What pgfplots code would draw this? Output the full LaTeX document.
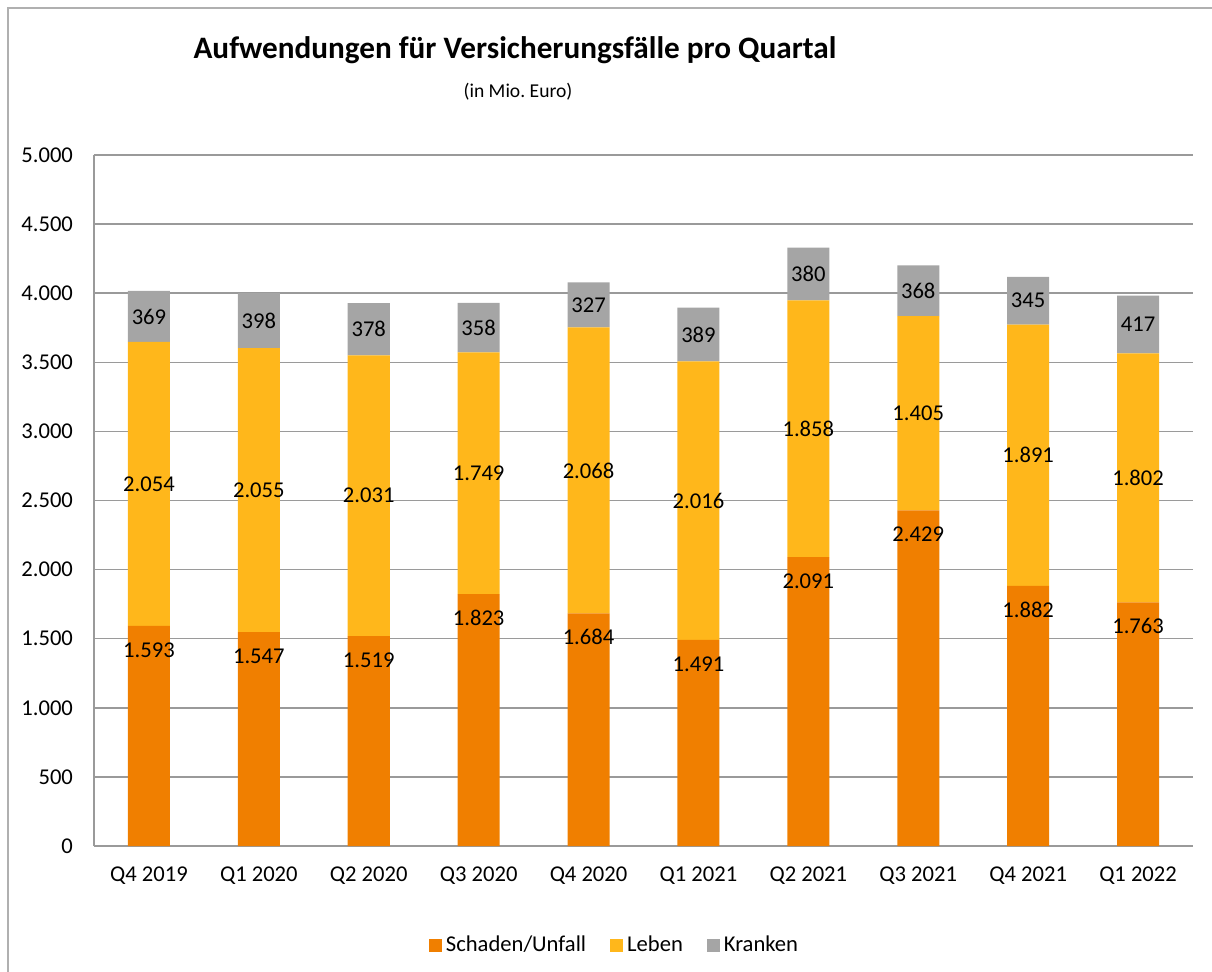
\documentclass[border=0pt]{standalone}
\usepackage{pgfplots}
\pgfplotsset{compat=1.18}
\usepackage{fontspec}
\setmainfont{Carlito}
\definecolor{cOrange}{HTML}{F07F00}
\definecolor{cYellow}{HTML}{FFB71B}
\definecolor{cGray}{HTML}{A5A5A5}
\definecolor{cGrid}{HTML}{9A9A9A}
\definecolor{cBorder}{HTML}{B0B0B0}
\pgfplotsset{
  common/.style={
    anchor=south west, at={(0pt,0pt)},
    scale only axis, width=549.5pt, height=345.5pt,
    bar width=21pt,
    xmin=-0.5, xmax=9.5, ymin=0, ymax=5000,
  },
}
\begin{document}
\frenchspacing
\begin{tikzpicture}
\useasboundingbox (-47pt,-62.5pt) rectangle (559pt,423pt);
\draw[cBorder, line width=0.9pt] (-43pt,-70pt) -- (-43pt,419pt) -- (570pt,419pt);
\begin{axis}[
  common,
  ybar stacked,
  xtick={0,...,9},
  xticklabels={Q4 2019,Q1 2020,Q2 2020,Q3 2020,Q4 2020,Q1 2021,Q2 2021,Q3 2021,Q4 2021,Q1 2022},
  ytick={0,500,...,5000},
  ymajorgrids, grid style={cGrid, line width=0.75pt},
  axis x line*=bottom, axis y line*=left,
  axis line style={cGrid, line width=0.75pt, -},
  major tick length=0pt,
  tick label style={font=\fontsize{11.3}{13}\selectfont},
  /pgf/number format/.cd, use comma, 1000 sep={.}, assume math mode=true, /pgfplots/.cd,
  yticklabel style={xshift=-7pt},
  xticklabel style={yshift=-7pt},
  every node near coord/.style={font=\fontsize{11.3}{13}\selectfont, color=black, anchor=center},
  legend columns=3,
  legend style={at={(0.4745,-0.1433)}, anchor=center, draw=none, fill=none,
    font=\fontsize{11.3}{13}\selectfont,
    /tikz/every even column/.append style={column sep=10pt}},
  legend image code/.code={\fill[#1,/tikz/.cd] (0pt,-3.25pt) rectangle (6.5pt,3.25pt);},
]
\addplot[fill=cOrange, draw=none]
  coordinates {(0,1593) (1,1547) (2,1519) (3,1823) (4,1684) (5,1491) (6,2091) (7,2429) (8,1882) (9,1763)};
\addlegendentry{Schaden/Unfall}
\addplot[fill=cYellow, draw=none, nodes near coords]
  coordinates {(0,2054) (1,2055) (2,2031) (3,1749) (4,2068) (5,2016) (6,1858) (7,1405) (8,1891) (9,1802)};
\addlegendentry{Leben}
\addplot[fill=cGray, draw=none, nodes near coords]
  coordinates {(0,369) (1,398) (2,378) (3,358) (4,327) (5,389) (6,380) (7,368) (8,345) (9,417)};
\addlegendentry{Kranken}
\end{axis}
\begin{axis}[
  common, ybar=0pt, hide axis,
  /pgf/number format/.cd, use comma, 1000 sep={.}, assume math mode=true, /pgfplots/.cd,
  every node near coord/.style={font=\fontsize{11.3}{13}\selectfont, color=black, anchor=center, yshift=-12pt},
]
\addplot[draw=none, fill=none, nodes near coords]
  coordinates {(0,1593) (1,1547) (2,1519) (3,1823) (4,1684) (5,1491) (6,2091) (7,2429) (8,1882) (9,1763)};
\end{axis}
\node[font=\bfseries\fontsize{15.6}{18}\selectfont, inner sep=0pt] at (210.5pt,398pt) {Aufwendungen für Versicherungsfälle pro Quartal};
\node[font=\fontsize{9.8}{11}\selectfont, inner sep=0pt] at (212pt,377pt) {(in Mio. Euro)};
\end{tikzpicture}
\end{document}
